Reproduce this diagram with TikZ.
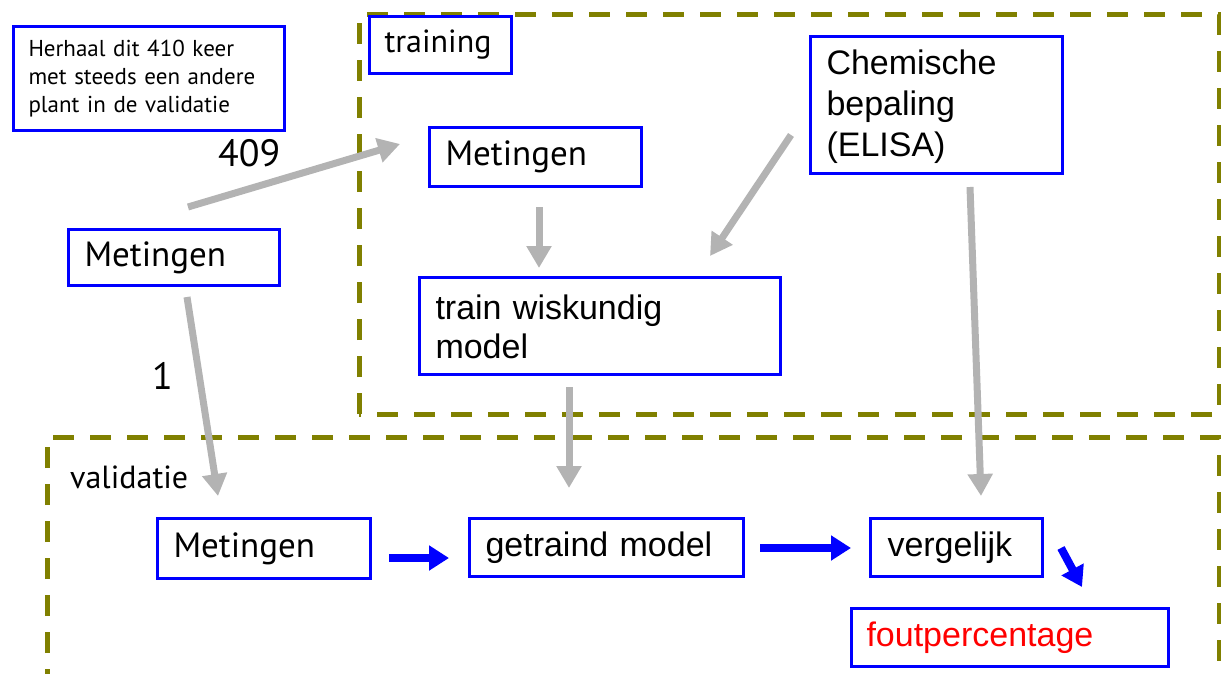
\documentclass[tikz,border=0pt]{standalone}
\usepackage{fontspec}
\setmainfont{Liberation Sans}
\newfontfamily\cond{PT Sans}
\usetikzlibrary{arrows.meta}
\definecolor{olivedash}{RGB}{128,128,0}
\definecolor{arrgray}{RGB}{179,179,179}
\tikzset{
  box/.style={draw=blue, line width=3pt, inner xsep=15pt, inner ysep=0pt, align=left, anchor=north west},
  group/.style={draw=olivedash, line width=5pt, dash pattern=on 21pt off 16pt},
  grayarrow/.style={draw=arrgray, line width=7pt, -{Triangle[width=24pt,length=22pt]}},
  bluearrow/.style={draw=blue, line width=8pt, -{Triangle[width=24pt,length=20pt]}},
  big/.style={font=\fontsize{34}{41}\selectfont},
  cbig/.style={font=\cond\fontsize{32}{38}\selectfont},
  cmet/.style={font=\cond\fontsize{35}{40}\selectfont},
}
\begin{document}
\begin{tikzpicture}[x=1pt,y=-1pt]
\useasboundingbox (0,0) rectangle (1221,674);
% groups
\draw[group] (359,414) -- (359,15) -- (1219,15) -- (1219,414) -- cycle;
\draw[group] (47,690) -- (47,437) -- (1219,437) -- (1219,690);

% nodes
\node[box, text width=241pt, minimum height=104pt, font=\cond\fontsize{23}{28}\selectfont] (herhaal) at (12,25)
  {Herhaal dit 410 keer\\met steeds een andere\\plant in de validatie};
\node[box, text width=112pt, minimum height=57pt, cbig] (training) at (368,15) {training};
\node[box, text width=179pt, minimum height=56pt, inner xsep=16pt, cmet] (mleft) at (67,228) {Metingen};
\node[box, text width=180pt, minimum height=59pt, inner xsep=16pt, cmet] (mtrain) at (428,126) {Metingen};
\node[box, text width=220pt, minimum height=137pt, inner xsep=16pt, big] (chem) at (809,35) {\strut Chemische\\bepaling\\(ELISA)};
\node[box, text width=329pt, minimum height=97pt, inner xsep=16pt, font=\fontsize{34}{39}\selectfont] (train) at (418,276) {\strut train wiskundig\\model};
\node[box, text width=181pt, minimum height=60pt, inner xsep=16pt, cmet] (mval) at (156,517) {Metingen};
\node[box, text width=242pt, minimum height=58pt, inner xsep=16pt, big] (getraind) at (468,517) {getraind model};
\node[box, text width=138pt, minimum height=58pt, inner xsep=17pt, big] (vergelijk) at (869,517) {vergelijk};
\node[box, text width=287pt, minimum height=58pt, inner xsep=15pt, big, text=red] (fout) at (850,607) {foutpercentage};

% labels
\node[cbig, anchor=base west, inner sep=0pt] (validatie) at (70,488) {validatie};
\node[font=\cond\fontsize{38}{44}\selectfont, anchor=base west, inner sep=0pt] (l409) at (218,167) {409};
\node[font=\cond\fontsize{38}{44}\selectfont, anchor=base west, inner sep=0pt] (l1) at (152,389) {1};

% arrow endpoints
\coordinate (a1s) at (188,207);  \coordinate (a1e) at (400,144);
\coordinate (a2s) at (187,297);  \coordinate (a2e) at (218,496);
\coordinate (a3s) at (539,207);  \coordinate (a3e) at (539,268);
\coordinate (a4s) at (791,135);  \coordinate (a4e) at (710,256);
\coordinate (a5s) at (569,387);  \coordinate (a5e) at (569,488);
\coordinate (a6s) at (970,187);  \coordinate (a6e) at (981,496);
\coordinate (b1s) at (389,558);  \coordinate (b1e) at (449,558);
\coordinate (b2s) at (760,548);  \coordinate (b2e) at (851,548);
\coordinate (b3s) at (1061,548); \coordinate (b3e) at (1082,587);

\draw[grayarrow] (a1s) -- (a1e);
\draw[grayarrow] (a2s) -- (a2e);
\draw[grayarrow] (a3s) -- (a3e);
\draw[grayarrow] (a4s) -- (a4e);
\draw[grayarrow] (a5s) -- (a5e);
\draw[grayarrow] (a6s) -- (a6e);
\draw[bluearrow] (b1s) -- (b1e);
\draw[bluearrow] (b2s) -- (b2e);
\draw[bluearrow] (b3s) -- (b3e);
\end{tikzpicture}
\end{document}
